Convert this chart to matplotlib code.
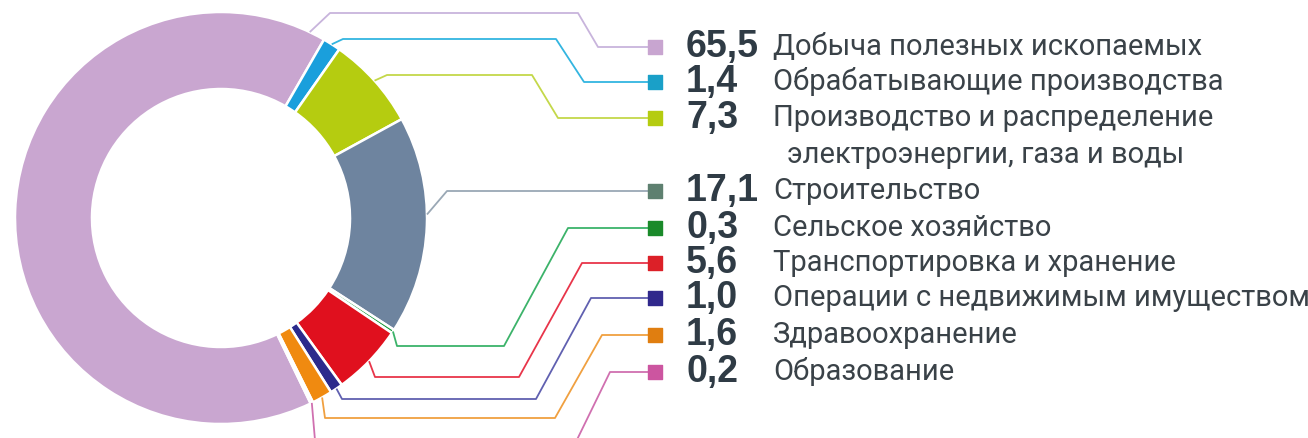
import numpy as np
import matplotlib.pyplot as plt

# доли отраслей, %
values = [65.5, 1.4, 7.3, 17.1, 0.3, 5.6, 1.0, 1.6, 0.2]
value_labels = ["65,5", "1,4", "7,3", "17,1", "0,3", "5,6", "1,0", "1,6", "0,2"]
names = ["Добыча полезных ископаемых",
         "Обрабатывающие производства",
         "Производство и распределение",
         "Строительство",
         "Сельское хозяйство",
         "Транспортировка и хранение",
         "Операции с недвижимым имуществом",
         "Здравоохранение",
         "Образование"]
extra_line = "электроэнергии, газа и воды"

slice_colors = ["#c9a6d0", "#1a9fdc", "#b5cc10", "#6e849f", "#1a9a3a",
                "#e0101e", "#2c2a8c", "#f08a10", "#c94fa0"]
line_colors = ["#c8b4dc", "#33b5e0", "#c4d84a", "#9aa8b5", "#3cb36a",
               "#e8354a", "#6060b0", "#f0a040", "#d070b0"]
mark_colors = ["#c8a5d0", "#1aa0c8", "#b5cc10", "#5e8070", "#1a8a2a",
               "#dc2028", "#30288c", "#e07e10", "#cc55a0"]

# раскладка (в пикселях картинки, y сверху вниз)
W, H = 1308, 438
cx, cy, R, ring = 221, 218, 206, 77
rows = [47, 82, 118, 191, 228, 263, 298, 335, 372]
anchor = [0.019, 0.5, 0.5, 0.55, 0.5, 0.5, 0.5, 0.5, 0.5]
p1 = [(330, 13), (343, 39), (387, 75), (447, 191), (397, 346),
      (375, 377), (342, 399), (325, 418), (316, 452)]
elb1 = [578, 556, 532, 600, 504, 519, 536, 555, 571]
elb2 = [598, 584, 558, 600, 568, 582, 591, 602, 610]
mark_x = 654.5
val_x = 686
name_x = 773

fig = plt.figure(figsize=(W / 100, H / 100), dpi=100)
ax = fig.add_axes([0, 0, 1, 1])

wedges, _ = ax.pie(values, colors=slice_colors, startangle=-64.2, counterclock=False,
                   center=(cx, H - cy), radius=R,
                   wedgeprops=dict(width=ring, edgecolor="white", linewidth=1.8))

for i, w in enumerate(wedges):
    th = np.deg2rad(w.theta1 + anchor[i] * (w.theta2 - w.theta1))
    x0 = cx + R * np.cos(th)
    y0 = (H - cy) + R * np.sin(th)
    px, py = p1[i]
    xs = [x0, px, elb1[i], elb2[i], mark_x]
    ys = [y0, H - py, H - py, H - rows[i], H - rows[i]]
    ax.plot(xs, ys, color=line_colors[i], lw=1.3, solid_capstyle="butt", zorder=1)
    ax.scatter([mark_x], [H - rows[i]], marker="s", s=95, color=mark_colors[i], zorder=3)
    ax.text(val_x, H - rows[i], value_labels[i], fontsize=27, fontweight="bold",
            color="#2f3b45", va="center", ha="left", family=["Liberation Sans", "DejaVu Sans"])
    ax.text(name_x, H - rows[i], names[i], fontsize=21, color="#3a4248",
            va="center", ha="left", family=["Roboto", "DejaVu Sans"])

ax.text(787, H - 155, extra_line, fontsize=21, color="#3a4248", va="center", ha="left",
        family=["Roboto", "DejaVu Sans"])

ax.set_xlim(0, W)
ax.set_ylim(0, H)
ax.set_aspect("auto")
ax.axis("off")

fig.savefig("out.png", dpi=100)
